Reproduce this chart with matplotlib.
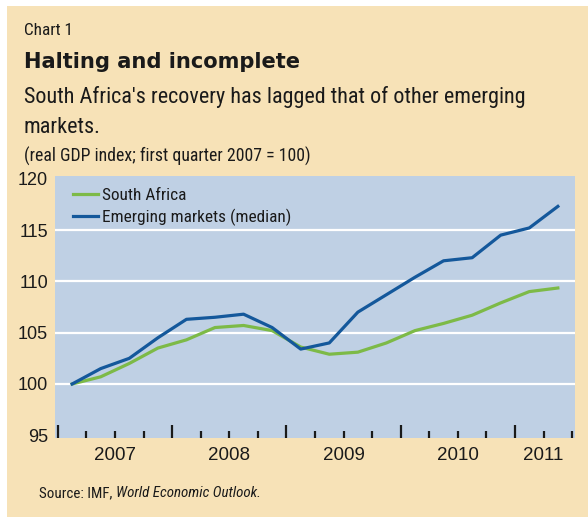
import matplotlib
matplotlib.use('Agg')
import matplotlib.pyplot as plt
import matplotlib.transforms as mtransforms
from matplotlib.patches import Rectangle
from matplotlib.ticker import FixedLocator

# Quarterly real GDP index, 2007Q1 = 100 (2007Q1 .. 2011Q2)
quarters = ['2007Q1', '2007Q2', '2007Q3', '2007Q4',
            '2008Q1', '2008Q2', '2008Q3', '2008Q4',
            '2009Q1', '2009Q2', '2009Q3', '2009Q4',
            '2010Q1', '2010Q2', '2010Q3', '2010Q4',
            '2011Q1', '2011Q2']
south_africa = [100.0, 100.7, 102.0, 103.5, 104.3, 105.5, 105.7, 105.2,
                103.6, 102.9, 103.1, 104.0, 105.2, 105.9, 106.7, 107.9,
                109.0, 109.35]
emerging = [100.0, 101.5, 102.5, 104.5, 106.3, 106.5, 106.8, 105.5,
            103.4, 104.0, 107.0, 108.7, 110.4, 112.0, 112.3, 114.5,
            115.2, 117.3]
years = ['2007', '2008', '2009', '2010', '2011']
y_ticks = [95, 100, 105, 110, 115, 120]

BEIGE = '#F7E2B7'
PANEL = '#BFD0E4'
GREEN = '#7DBA47'
BLUE = '#14589B'
INK = '#1A1A1A'

NARROW = ['Roboto Condensed', 'DejaVu Sans']
SANS = ['Liberation Sans', 'DejaVu Sans']

W, H = 588, 519


def fx(px):
    return px / W


def fy(py):
    return 1 - py / H


fig = plt.figure(figsize=(W / 100, H / 100), dpi=100)
fig.patch.set_facecolor('white')
fig.patches.append(Rectangle((fx(7), fy(517)), fx(588) - fx(7), fy(6) - fy(517),
                             transform=fig.transFigure, facecolor=BEIGE,
                             edgecolor='none', zorder=-5))

txt = dict(family=NARROW, stretch='condensed', color=INK, va='baseline')

# header texts
fig.text(fx(24), fy(35), 'Chart 1', fontsize=12.3, **txt)
fig.text(fx(24), fy(68), 'Halting and incomplete', family='DejaVu Sans',
         fontweight='bold', fontsize=15.1, color=INK, va='baseline')
fig.text(fx(24), fy(103), "South Africa's recovery has lagged that of other emerging",
         fontsize=15.9, **txt)
fig.text(fx(24), fy(133), 'markets.', fontsize=15.9, **txt)
fig.text(fx(24), fy(162), '(real GDP index; first quarter 2007 = 100)',
         fontsize=12.8, **txt)

# plot area
ax = fig.add_axes([fx(55), fy(438), fx(575) - fx(55), fy(176) - fy(438)])
ax.set_facecolor(PANEL)
for s in ax.spines.values():
    s.set_visible(False)

x = [i + 0.5 for i in range(len(quarters))]
ax.plot(x, south_africa, color=GREEN, lw=2.3, label='South Africa', zorder=3)
ax.plot(x, emerging, color=BLUE, lw=2.3, label='Emerging markets (median)', zorder=4)

ax.set_xlim(-0.1, len(quarters) + 0.1)
ax.set_ylim(94.74, 120.26)

ax.set_yticks(y_ticks)
ax.set_yticklabels([str(v) for v in y_ticks], family=SANS, fontsize=13, color=INK)
ax.tick_params(axis='y', length=0, pad=5)
for v in y_ticks[1:-1]:
    ax.axhline(v, color='white', lw=1.6, zorder=1)

# quarter ticks along the bottom, year boundaries longer
major = list(range(0, len(quarters) + 1, 4))
minor = [i for i in range(len(quarters) + 1) if i not in major]
ax.xaxis.set_major_locator(FixedLocator(major))
ax.xaxis.set_minor_locator(FixedLocator(minor))
ax.xaxis.set_major_formatter(plt.NullFormatter())
ax.tick_params(axis='x', which='major', direction='in', length=9.5, width=1.6, color=INK)
ax.tick_params(axis='x', which='minor', direction='in', length=5, width=1.6, color=INK)

# year labels centred on each year's span
trans = mtransforms.blended_transform_factory(ax.transData, ax.transAxes)
for i, yr in enumerate(years):
    lo = i * 4
    hi = min(lo + 4, len(quarters))
    ax.text((lo + hi) / 2, -22 / 262, yr, transform=trans, family=SANS,
            fontsize=13.5, color=INK, ha='center', va='baseline')

leg = ax.legend(loc='upper left', bbox_to_anchor=(0.035, 0.955), frameon=False,
                prop={'family': NARROW, 'stretch': 'condensed', 'size': 12.4},
                handlelength=1.45, handletextpad=0.25, labelspacing=0.32,
                borderpad=0, borderaxespad=0)
for t in leg.get_texts():
    t.set_color(INK)

# source line, title of the publication in italics
src = fig.text(fx(39), fy(497), 'Source: IMF, ', fontsize=10.8, **txt)
ann = plt.Annotation('World Economic Outlook.', xy=(1, 0), xycoords=src,
                     va='bottom', ha='left', fontsize=10.8, style='italic',
                     family=NARROW, stretch='condensed', color=INK)
fig.add_artist(ann)

fig.savefig('out.png', dpi=100, facecolor=fig.get_facecolor())
